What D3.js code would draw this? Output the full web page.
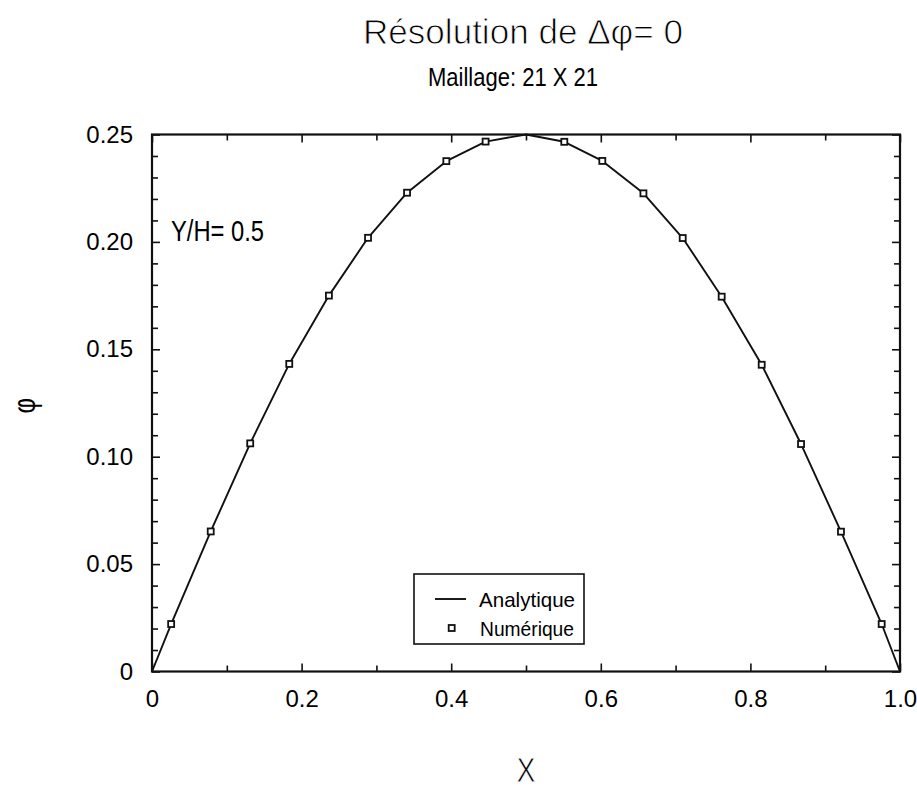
<!DOCTYPE html>
<html><head><meta charset="utf-8">
<script src="https://cdn.jsdelivr.net/npm/d3@7"></script>
<style>
body{margin:0;background:#fff}
svg{display:block;background:#fff}
text{font-family:"Liberation Sans",Arial,Helvetica,sans-serif;fill:#000}
</style>
</head><body><svg id="c" width="917" height="789"></svg>
<script>
// ---- data ----
const numX = [0.0256, 0.0785, 0.1313, 0.1835, 0.2365, 0.2888, 0.3410, 0.3935, 0.4460,
              0.5512, 0.6020, 0.6570, 0.7095, 0.7616, 0.8151, 0.8677, 0.9211, 0.9755];
const numY = [0.0221, 0.0652, 0.1062, 0.1432, 0.1750, 0.2019, 0.2229, 0.2376, 0.2467,
              0.2466, 0.2377, 0.2226, 0.2018, 0.1745, 0.1428, 0.1059, 0.0651, 0.0221];
const anaX = [0, 0.0256, 0.0785, 0.1313, 0.1835, 0.2365, 0.2888, 0.3410, 0.3935, 0.4460, 0.5,
              0.5512, 0.6020, 0.6570, 0.7095, 0.7616, 0.8151, 0.8677, 0.9211, 0.9755, 1];
const anaY = [0, 0.0221, 0.0652, 0.1062, 0.1432, 0.1750, 0.2019, 0.2229, 0.2376, 0.2467, 0.25,
              0.2466, 0.2377, 0.2226, 0.2018, 0.1745, 0.1428, 0.1059, 0.0651, 0.0221, 0];
const xTicks = [0, 0.2, 0.4, 0.6, 0.8, 1.0];
const xTickLabels = ["0", "0.2", "0.4", "0.6", "0.8", "1.0"];
const xMinor = [0.1, 0.3, 0.5, 0.7, 0.9];
const yTicks = [0, 0.05, 0.10, 0.15, 0.20, 0.25];
const yTickLabels = ["0", "0.05", "0.10", "0.15", "0.20", "0.25"];
const yMinor = [0.01, 0.02, 0.03, 0.04, 0.06, 0.07, 0.08, 0.09, 0.11, 0.12, 0.13, 0.14,
                0.16, 0.17, 0.18, 0.19, 0.21, 0.22, 0.23, 0.24];
const legendLabels = ["Analytique", "Numérique"];
const titleText = "Résolution de Δφ= 0";
const subtitleText = "Maillage: 21 X 21";
const noteText = "Y/H= 0.5";
const xLabelText = "X";
const yLabelText = "φ";

// ---- layout ----
const L = 152, R = 900, T = 134.5, B = 671.5;
const svg = d3.select("#c");
const x = d3.scaleLinear().domain([0, 1]).range([L, R]);
const y = d3.scaleLinear().domain([0, 0.25]).range([B, T]);
const ink = "#111";
const phiFont = "'Noto Sans', 'DejaVu Sans', sans-serif";

function clean(g){ g.select(".domain").remove(); g.selectAll("line").attr("stroke", ink).attr("stroke-width", 1.6); }

// bottom axis (major with labels + minor)
svg.append("g").attr("transform", `translate(0,${B})`)
  .call(d3.axisBottom(x).tickValues(xTicks).tickFormat((d,i)=>xTickLabels[i]).tickSizeInner(-8).tickSizeOuter(0).tickPadding(18.5))
  .call(clean).call(g=>g.selectAll("text").attr("font-size",24).attr("font-family",null).attr("fill","#000"));
svg.append("g").attr("transform", `translate(0,${B})`)
  .call(d3.axisBottom(x).tickValues(xMinor).tickFormat("").tickSizeInner(-6).tickSizeOuter(0)).call(clean);
// top axis
svg.append("g").attr("transform", `translate(0,${T})`)
  .call(d3.axisTop(x).tickValues(xTicks).tickFormat("").tickSizeInner(-8).tickSizeOuter(0)).call(clean);
svg.append("g").attr("transform", `translate(0,${T})`)
  .call(d3.axisTop(x).tickValues(xMinor).tickFormat("").tickSizeInner(-6).tickSizeOuter(0)).call(clean);
// left axis
svg.append("g").attr("transform", `translate(${L},0)`)
  .call(d3.axisLeft(y).tickValues(yTicks).tickFormat((d,i)=>yTickLabels[i]).tickSizeInner(-8).tickSizeOuter(0).tickPadding(19))
  .call(clean).call(g=>g.selectAll("text").attr("font-size",24).attr("font-family",null).attr("fill","#000"));
svg.append("g").attr("transform", `translate(${L},0)`)
  .call(d3.axisLeft(y).tickValues(yMinor).tickFormat("").tickSizeInner(-6).tickSizeOuter(0)).call(clean);
// right axis
svg.append("g").attr("transform", `translate(${R},0)`)
  .call(d3.axisRight(y).tickValues(yTicks).tickFormat("").tickSizeInner(-8).tickSizeOuter(0)).call(clean);
svg.append("g").attr("transform", `translate(${R},0)`)
  .call(d3.axisRight(y).tickValues(yMinor).tickFormat("").tickSizeInner(-6).tickSizeOuter(0)).call(clean);

// frame
svg.append("rect").attr("x", L).attr("y", T).attr("width", R-L).attr("height", B-T)
  .attr("fill", "none").attr("stroke", ink).attr("stroke-width", 2.2);

// analytic curve
const line = d3.line().x(i=>x(anaX[i])).y(i=>y(anaY[i]));
svg.append("path").attr("d", line(d3.range(anaX.length)))
  .attr("fill","none").attr("stroke", ink).attr("stroke-width", 1.9).attr("stroke-linejoin","round");

// numeric markers
const ms = 6;
svg.append("g").selectAll("rect").data(d3.range(numX.length)).join("rect")
  .attr("x", i=>x(numX[i]) - ms/2).attr("y", i=>y(numY[i]) - ms/2)
  .attr("width", ms).attr("height", ms)
  .attr("fill", "#fff").attr("stroke", ink).attr("stroke-width", 1.8);

// legend
const lg = svg.append("g");
lg.append("rect").attr("x",414).attr("y",574).attr("width",170).attr("height",70)
  .attr("fill","#fff").attr("stroke",ink).attr("stroke-width",1.6);
lg.append("line").attr("x1",435).attr("x2",466).attr("y1",599).attr("y2",599)
  .attr("stroke",ink).attr("stroke-width",1.9);
lg.append("rect").attr("x",451.7-ms/2).attr("y",628-ms/2).attr("width",ms).attr("height",ms)
  .attr("fill","#fff").attr("stroke",ink).attr("stroke-width",1.8);
lg.append("text").attr("x",479).attr("y",606.5).attr("font-size",21)
  .attr("textLength",96).attr("lengthAdjust","spacingAndGlyphs").text(legendLabels[0]);
lg.append("text").attr("x",480).attr("y",636).attr("font-size",21)
  .attr("textLength",94).attr("lengthAdjust","spacingAndGlyphs").text(legendLabels[1]);

// title (Noto Sans draws phi with the straight stroke, as in the original)
svg.append("text").attr("x",363).attr("y",44).attr("font-size",35)
  .attr("font-family", phiFont)
  .attr("stroke","#fff").attr("stroke-width",0.9)
  .attr("textLength",320).attr("lengthAdjust","spacingAndGlyphs").text(titleText);

svg.append("text").attr("x",428).attr("y",86).attr("font-size",25.5)
  .attr("textLength",170).attr("lengthAdjust","spacingAndGlyphs").text(subtitleText);
svg.append("text").attr("x",171).attr("y",240.5).attr("font-size",30)
  .attr("textLength",93).attr("lengthAdjust","spacingAndGlyphs").text(noteText);
svg.append("text").attr("x",516.5).attr("y",781.5).attr("font-size",35)
  .attr("stroke","#fff").attr("stroke-width",0.8)
  .attr("textLength",19).attr("lengthAdjust","spacingAndGlyphs").text(xLabelText);
// y label: phi turned on its side
svg.append("g").attr("transform","translate(26.5,405.7) rotate(-90) scale(0.75,1)")
  .append("text").attr("x",0).attr("y",0).attr("text-anchor","middle")
  .attr("dy","0.28em").attr("font-size",32).attr("font-family", phiFont).text(yLabelText);
</script></body></html>
